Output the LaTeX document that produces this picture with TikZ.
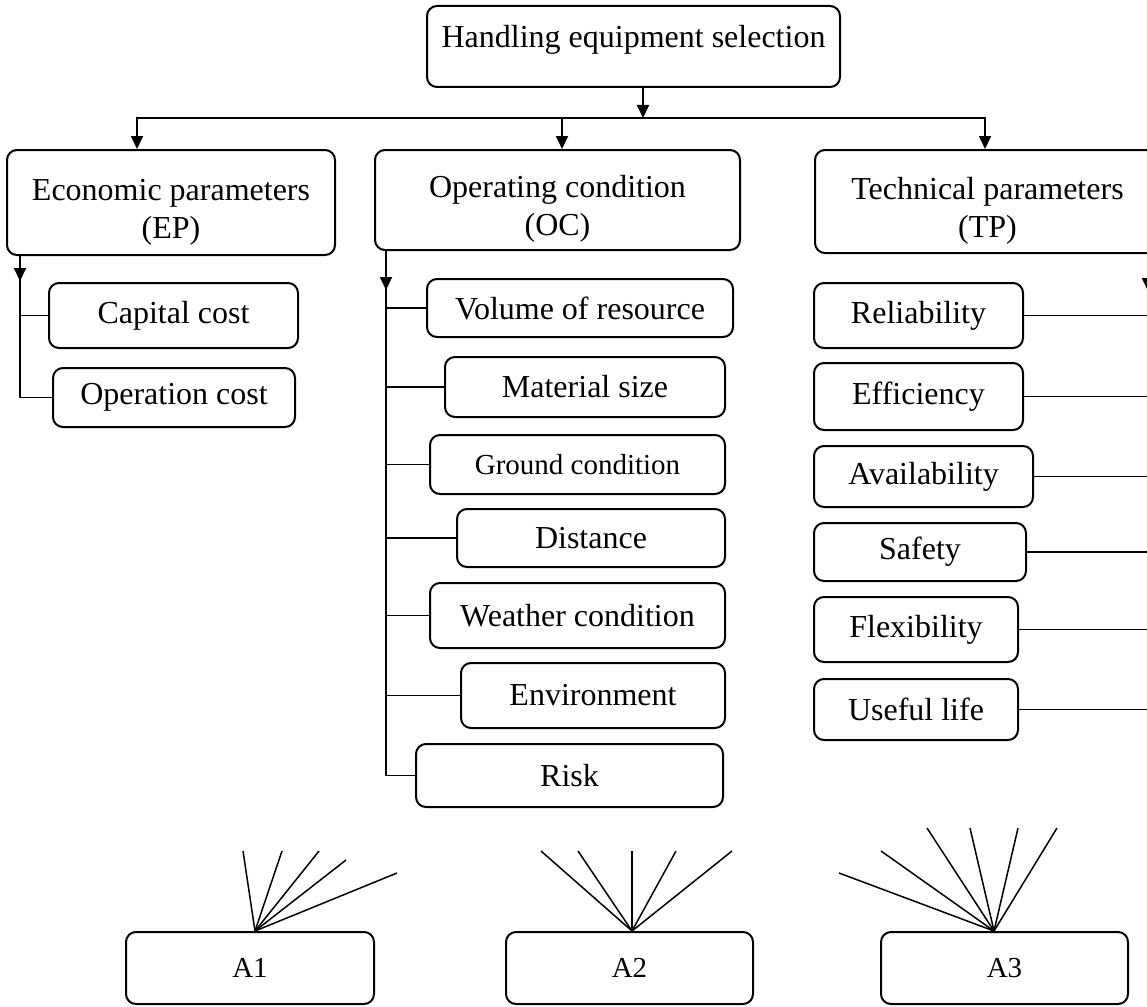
\documentclass[tikz,border=0pt]{standalone}
\usepackage{fontspec}
\setmainfont{Liberation Serif}
\usepackage{tikz}
\usetikzlibrary{arrows.meta, positioning}
\newcommand{\twig}[2]
{
	\draw (#2.west) -- (#2.west -| #1)
}
\newcommand{\twigr}[2]
{
	\draw (#2.east) -- (#2.east -| #1)
}
\newcommand{\tall}{\rule{0pt}{40pt}}

\begin{document}
\begin{tikzpicture}[x=1pt, y=-1pt, line width=1.8pt,
every node/.append style={font=\fontsize{32}{38}\selectfont},
box/.style 2 args={shape=rectangle, draw=black, rounded corners=10pt,
	line width=2pt, inner sep=0pt, align=center,
	minimum width=#1pt, minimum height=#2pt},
small/.style={font=\fontsize{29}{34}\selectfont},
tip/.style={-{Triangle[length=13pt, width=12pt]}},
fan/.style={line width=1.5pt}]

\useasboundingbox (0,0) rectangle (1147,1006);
\clip (0,0) rectangle (1147,1006);

\node[box={413}{81}, text depth=20pt] at (633.5, 46.5) (sel){Handling equipment selection};

\node[box={328}{105}] at (171, 202.5) (ep){\tall Economic parameters\\(EP)};
\node[box={365}{100}] at (557.5, 200) (oc){\tall Operating condition\\(OC)};
\node[box={345}{103}] at (987.5, 201.5) (tp){\tall Technical parameters\\(TP)};

% economic
\node[box={249}{65}] at (173.5, 315.5) (capc){Capital cost};
\node[box={242}{59}] at (174, 397.5) (opc){Operation cost};

% operating
\node[box={306}{58}] at (580, 308) (vol){Volume of resource};
\node[box={280}{60}] at (585, 387) (mat){Material size};
\node[box={295}{59}, small] at (577.5, 464.5) (grd){Ground condition};
\node[box={268}{58}] at (591, 538) (dist){Distance};
\node[box={295}{65}] at (577.5, 615.5) (wth){Weather condition};
\node[box={264}{65}] at (593, 695.5) (env){Environment};
\node[box={307}{63}] at (569.5, 775.5) (risk){Risk};

% technical
\node[box={209}{65}] at (918.5, 315.5) (rel){Reliability};
\node[box={209}{67}] at (918.5, 396.5) (eff){Efficiency};
\node[box={219}{61}] at (923.5, 476.5) (avl){Availability};
\node[box={212}{58}] at (920, 552) (saf){Safety};
\node[box={204}{65}] at (916, 629.5) (flx){Flexibility};
\node[box={204}{61}] at (916, 709.5) (ufl){Useful life};

% alternatives
\node[box={248}{72}, small] at (250, 968) (a1){A1};
\node[box={247}{72}, small] at (629.5, 968) (a2){A2};
\node[box={247}{72}, small] at (1004.5, 968) (a3){A3};

\coordinate (hub) at (643, 118);
\coordinate (epbus) at (20, 0);
\coordinate (ocbus) at (386, 0);
\coordinate (tpbus) at (1148, 0);

\draw[tip] (sel.south -| hub) -- (hub);
\draw[tip] (hub) -| ([xshift=-34pt]ep.north);
\draw[tip] (hub) -| ([xshift=4.5pt]oc.north);
\draw[tip] (hub) -| ([xshift=-2.5pt]tp.north);

\draw[tip] (ep.south -| epbus) -- ++(0, 25);
\draw (ep.south -| epbus) |- (opc.west);
\twig{epbus}{capc};

\draw[tip] (oc.south -| ocbus) -- ++(0, 39);
\draw (oc.south -| ocbus) |- (risk.west);
\twig{ocbus}{vol};
\twig{ocbus}{mat};
\twig{ocbus}{grd};
\twig{ocbus}{dist};
\twig{ocbus}{wth};
\twig{ocbus}{env};

\draw[tip] (tp.south -| tpbus) -- ++(0, 37);
\draw (tp.south -| tpbus) |- (ufl.east);
\twigr{tpbus}{rel};
\twigr{tpbus}{eff};
\twigr{tpbus}{avl};
\twigr{tpbus}{saf};
\twigr{tpbus}{flx};

\foreach \fx/\fy in {243/851, 282/851, 319/851, 346/860, 397/873}
	\draw[fan] ([xshift=5pt]a1.north) -- (\fx, \fy);
\foreach \fx/\fy in {541/851, 578/851, 632/851, 676/851, 732/851}
	\draw[fan] ([xshift=2.5pt]a2.north) -- (\fx, \fy);
\foreach \fx/\fy in {839/873, 881/851, 927/828, 970/828, 1018/828, 1057/828}
	\draw[fan] ([xshift=-10.5pt]a3.north) -- (\fx, \fy);
\end{tikzpicture}
\end{document}
